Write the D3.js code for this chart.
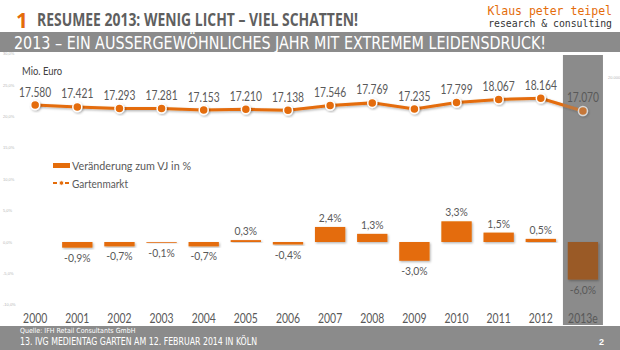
<!DOCTYPE html>
<html><head><meta charset="utf-8">
<script src="https://cdn.jsdelivr.net/npm/d3@7"></script>
<style>body{margin:0;background:#fff}svg{display:block}</style>
</head><body>
<svg id="c" width="620" height="350"></svg>
<script>
// ---- data ----
const years = ["2000","2001","2002","2003","2004","2005","2006","2007","2008","2009","2010","2011","2012","2013e"];
const marketValues = [17580,17421,17293,17281,17153,17210,17138,17546,17769,17235,17799,18067,18164,17070];
const changeValues = [null,-0.9,-0.7,-0.1,-0.7,0.3,-0.4,2.4,1.3,-3.0,3.3,1.5,0.5,-6.0];
const pctTicks = [30,25,20,15,10,5,0,-5,-10];
const rightTicks = [20000];

const NARROW = "'DejaVu Sans Condensed','DejaVu Sans',sans-serif";
const BODY = "Lato,'Open Sans',sans-serif";
const ORANGE = "#E46C0A";
const GRAY = "#8b8b8b";
const TXT = "#595959";

const de = d3.formatLocale({decimal:",", thousands:".", grouping:[3], currency:["","€"], minus:"-"});
const fmtNum = de.format(",d");
const fmtPct = v => de.format(".1f")(v) + "%";

// horizontally condense text nodes by factor k
function condense(sel, k){
  sel.each(function(){
    const w = this.getComputedTextLength();
    d3.select(this).attr("textLength", w*k).attr("lengthAdjust","spacingAndGlyphs");
  });
}

const svg = d3.select("#c");
const defs = svg.append("defs");
const f = defs.append("filter").attr("id","sh").attr("x","-30%").attr("y","-30%").attr("width","160%").attr("height","160%");
f.append("feDropShadow").attr("dx",1).attr("dy",1.2).attr("stdDeviation",1).attr("flood-color","#000").attr("flood-opacity",0.3);

// scales
const x = d3.scaleBand().domain(years).range([14.1, 604]).paddingInner(0.28).paddingOuter(0.14);
const cx = d => x(d) + x.bandwidth()/2;
const yPct = d3.scaleLinear().domain([-10, 30]).range([304.7, 53.9]);
const yMkt = d3.scaleLinear().domain([17000, 20000]).range([111.8, 77.0]);

// ---- header ----
svg.append("text").attr("x",16).attr("y",28).attr("fill",ORANGE)
  .attr("font-family","'Open Sans',sans-serif").attr("font-weight","bold").attr("font-size",21).text("1");
svg.append("text").attr("x",37).attr("y",26).attr("fill","#5f5f5f")
  .attr("font-family","'Open Sans',sans-serif").attr("font-weight","bold").attr("font-size",17)
  .attr("textLength",321).attr("lengthAdjust","spacingAndGlyphs")
  .text("RESUMEE 2013: WENIG LICHT – VIEL SCHATTEN!");
svg.append("text").attr("x",612).attr("y",15).attr("text-anchor","end").attr("fill",ORANGE)
  .attr("font-family","'DejaVu Sans Mono',monospace").attr("font-size",11.5).text("Klaus peter teipel");
svg.append("text").attr("x",612).attr("y",27).attr("text-anchor","end").attr("fill","#333")
  .attr("font-family","'DejaVu Sans Mono',monospace").attr("font-size",9.8).text("research & consulting");

svg.append("rect").attr("x",0).attr("y",32).attr("width",620).attr("height",20).attr("fill",GRAY);
svg.append("text").attr("x",14).attr("y",48.5).attr("fill","#fff")
  .attr("font-family",NARROW).attr("font-size",18)
  .attr("textLength",532).attr("lengthAdjust","spacingAndGlyphs")
  .text("2013 – EIN AUSSERGEWÖHNLICHES JAHR MIT EXTREMEM LEIDENSDRUCK!");

// ---- highlight column ----
svg.append("rect").attr("x",cx("2013e")-20).attr("y",55).attr("width",40).attr("height",270).attr("fill",GRAY);

// ---- faint axis labels ----
svg.append("g").selectAll("text").data(pctTicks).join("text")
  .attr("x",3).attr("y",d=>yPct(d)+1.5).attr("font-size",4).attr("fill","#b5b5b5")
  .attr("font-family","sans-serif").text(d=>fmtPct(d));
svg.append("g").selectAll("text").data(rightTicks).join("text")
  .attr("x",608).attr("y",d=>yMkt(d)+1.5).attr("font-size",4).attr("fill","#b5b5b5")
  .attr("font-family","sans-serif").text(d=>fmtNum(d));

// ---- bars ----
const barData = years.map((y,i)=>({y, v:changeValues[i]})).filter(d=>d.v!==null);
svg.append("g").selectAll("rect").data(barData).join("rect")
  .attr("x",d=>x(d.y)).attr("width",x.bandwidth())
  .attr("y",d=>yPct(Math.max(0,d.v)))
  .attr("height",d=>Math.max(0.8, Math.abs(yPct(d.v)-yPct(0))))
  .attr("fill",d=>d.y==="2013e" ? "#9a5a28" : ORANGE)
  .attr("filter","url(#sh)");
svg.append("g").selectAll("text").data(barData).join("text")
  .attr("x",d=>cx(d.y))
  .attr("y",d=>d.v>=0 ? yPct(d.v)-5 : yPct(d.v)+14)
  .attr("text-anchor","middle").attr("font-family",BODY).attr("font-size",11.5)
  .attr("fill",TXT).text(d=>fmtPct(d.v))
  .call(condense, 0.9);

// ---- line ----
const lineData = years.map((y,i)=>({y, v:marketValues[i]}));
const line = d3.line().x(d=>cx(d.y)).y(d=>yMkt(d.v));
svg.append("path").datum(lineData).attr("d",line).attr("fill","none")
  .attr("stroke",ORANGE).attr("stroke-width",3).attr("filter","url(#sh)");
svg.append("g").selectAll("circle").data(lineData).join("circle")
  .attr("cx",d=>cx(d.y)).attr("cy",d=>yMkt(d.v)).attr("r",4.5)
  .attr("fill",ORANGE).attr("stroke","#fff").attr("stroke-width",1.5).attr("filter","url(#sh)");
// dim line inside the highlight column
svg.append("rect").attr("x",cx("2013e")-20).attr("y",60).attr("width",40).attr("height",80)
  .attr("fill",GRAY).attr("opacity",0.35);
svg.append("g").selectAll("text").data(lineData).join("text")
  .attr("x",d=>cx(d.y)).attr("y",d=>yMkt(d.v)-8.5)
  .attr("text-anchor","middle").attr("font-family",BODY).attr("font-size",12.8)
  .attr("fill",TXT).text(d=>fmtNum(d.v))
  .call(condense, 0.8);

svg.append("text").attr("x",22).attr("y",75).attr("font-family",BODY).attr("font-size",10.5)
  .attr("fill","#404040").attr("textLength",40).attr("lengthAdjust","spacingAndGlyphs").text("Mio. Euro");

// ---- x labels ----
svg.append("g").selectAll("text").data(years).join("text")
  .attr("x",d=>cx(d)).attr("y",323).attr("text-anchor","middle")
  .attr("font-family",BODY).attr("font-size",13).attr("fill",TXT).text(d=>d)
  .call(condense, 0.8);

// ---- legend ----
const lg = svg.append("g");
lg.append("rect").attr("x",53).attr("y",163).attr("width",17).attr("height",5).attr("fill",ORANGE);
lg.append("text").attr("x",72).attr("y",169.5).attr("font-family",BODY).attr("font-size",12).attr("fill",TXT)
  .attr("textLength",119).attr("lengthAdjust","spacingAndGlyphs").text("Veränderung zum VJ in %");
lg.append("line").attr("x1",53).attr("x2",70).attr("y1",183).attr("y2",183)
  .attr("stroke",ORANGE).attr("stroke-width",2).attr("stroke-dasharray","4,2");
lg.append("circle").attr("cx",61.5).attr("cy",183).attr("r",2.2).attr("fill",ORANGE).attr("stroke","#fff").attr("stroke-width",0.8);
lg.append("text").attr("x",72).attr("y",187.5).attr("font-family",BODY).attr("font-size",12).attr("fill",TXT)
  .attr("textLength",56).attr("lengthAdjust","spacingAndGlyphs").text("Gartenmarkt");

// ---- footer ----
svg.append("rect").attr("x",0).attr("y",326).attr("width",620).attr("height",24).attr("fill",GRAY);
svg.append("text").attr("x",20).attr("y",333).attr("fill","#fff").attr("font-family",NARROW).attr("font-size",7)
  .text("Quelle: IFH Retail Consultants GmbH");
svg.append("text").attr("x",20).attr("y",345).attr("fill","#fff").attr("font-family",NARROW).attr("font-size",10.5)
  .attr("textLength",237).attr("lengthAdjust","spacingAndGlyphs")
  .text("13. IVG MEDIENTAG GARTEN AM 12. FEBRUAR 2014 IN KÖLN");
svg.append("text").attr("x",599).attr("y",345).attr("fill","#fff").attr("font-family","sans-serif")
  .attr("font-weight","bold").attr("font-size",9).text("2");
</script>
</body></html>
